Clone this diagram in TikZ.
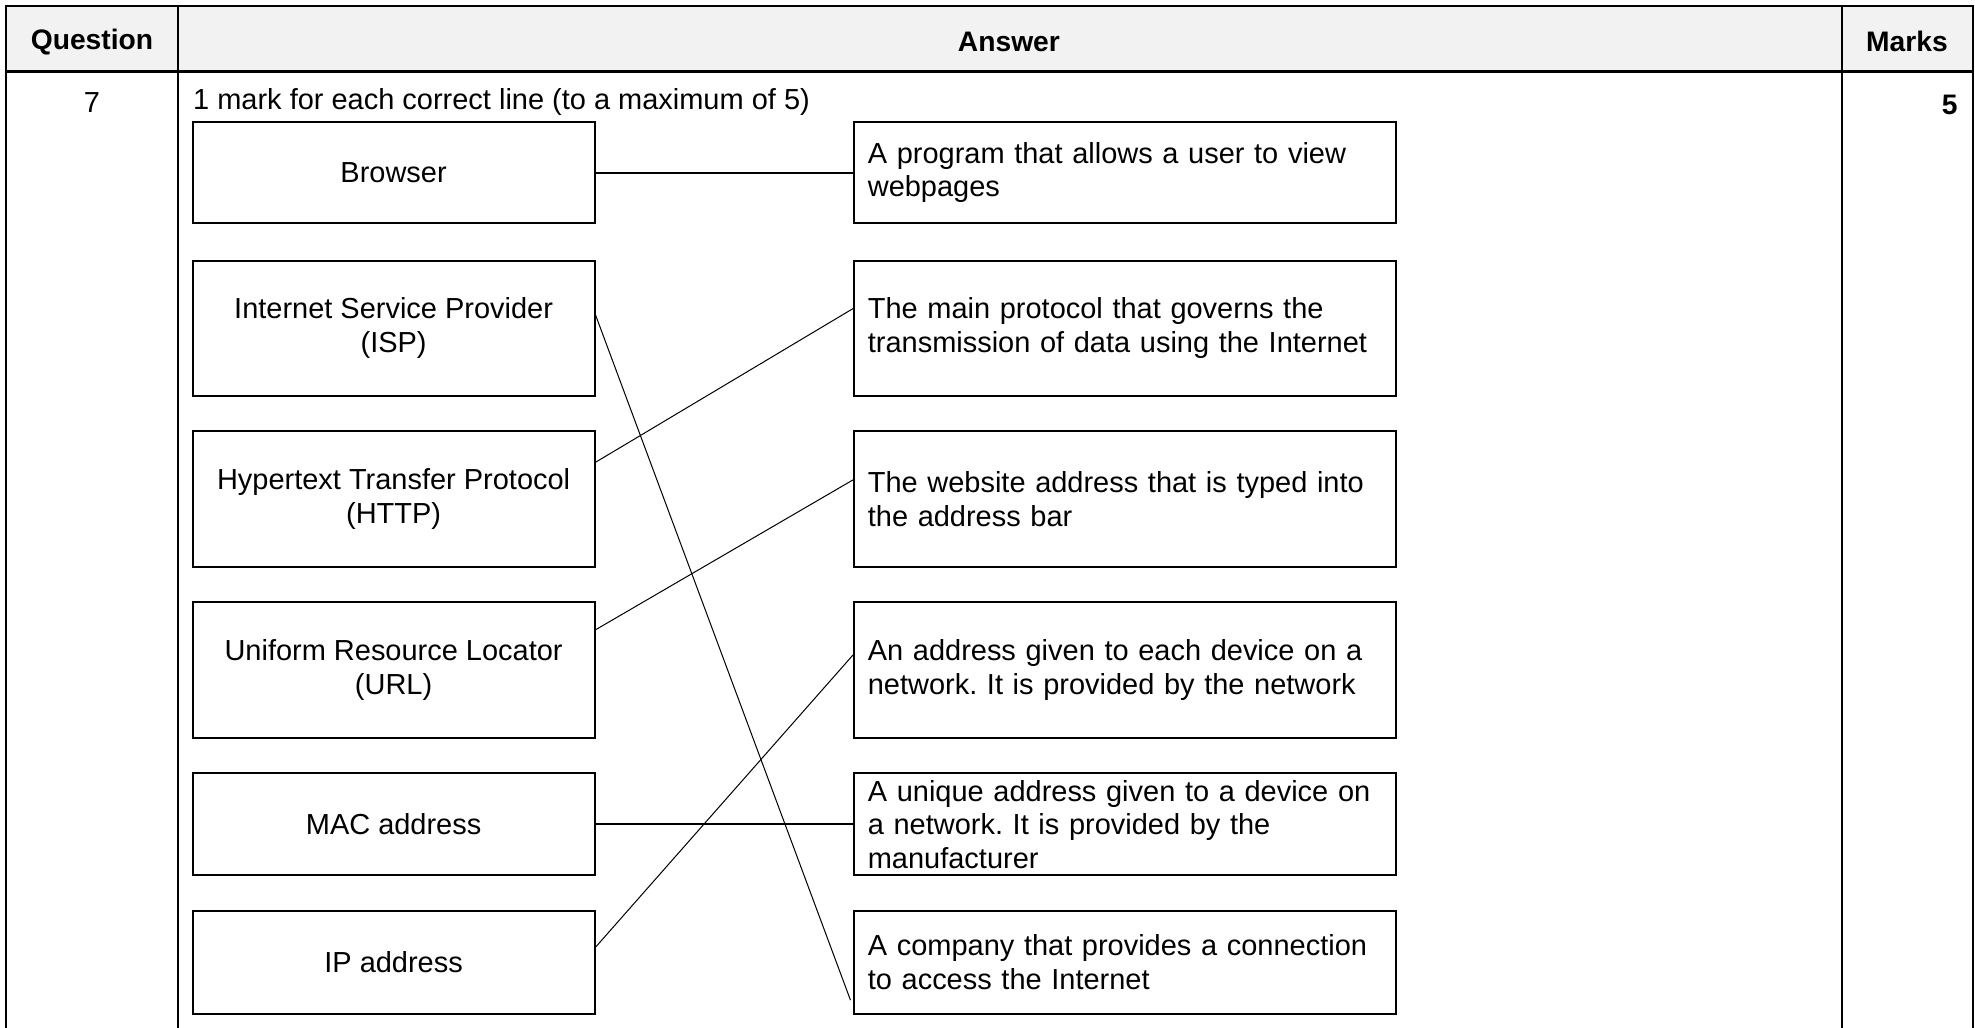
\documentclass[tikz,border=0pt]{standalone}
\usepackage{fontspec}
\setmainfont{Liberation Sans}
\usetikzlibrary{calc}
\newcommand\bodyfs{\fontsize{11.5}{13.4}\selectfont}
\newcommand\hdrfs{\fontsize{11.2}{13.4}\selectfont}
\frenchspacing
\begin{document}
\begin{tikzpicture}[x=0.5pt,y=-0.5pt,
  tline/.style={line width=0.8pt},
  hline/.style={line width=1.2pt},
  lbox/.style={draw,line width=0.8pt,inner sep=0pt,minimum width=159.5pt,align=center,font=\bodyfs},
  rbox/.style={draw,line width=0.8pt,inner xsep=5.5pt,inner ysep=0pt,text width=204pt,align=left,font=\bodyfs},
  hdr/.style={font=\hdrfs\bfseries},
  thin/.style={line width=0.4pt},
  thick/.style={line width=0.8pt}]
\useasboundingbox (0,0) rectangle (1568,816);
% header
\fill[black!5] (5,5) rectangle (1566,57);
\draw[tline] (5,816) -- (5,5) -- (1566,5) -- (1566,816);
\draw[tline] (141.5,5) -- (141.5,816);
\draw[tline] (1462,5) -- (1462,816);
\draw[hline] (5,57) -- (1566,57);
\node[hdr] (hq) at (73,33) {Question};
\node[hdr] (ha) at (801,33) {Answer};
\node[hdr] (hm) at (1514,33) {Marks};
% row
\node[font=\bodyfs] (q7) at (73,81) {7};
\node[font=\bodyfs,anchor=west,inner sep=0pt] (instr) at (153,81) {1 mark for each correct line (to a maximum of 5)};
\node[font=\hdrfs\bfseries,anchor=east,inner sep=0pt] (m5) at (1554.5,83) {5};
% left boxes
\node[lbox,minimum height=40pt] (browser) at (312.5,137) {Browser};
\node[lbox,minimum height=53.5pt] (isp) at (312.5,260.5) {Internet Service Provider\\(ISP)};
\node[lbox,minimum height=54pt] (http) at (312.5,396) {Hypertext Transfer Protocol\\(HTTP)};
\node[lbox,minimum height=54pt] (url) at (312.5,532) {Uniform Resource Locator\\(URL)};
\node[lbox,minimum height=40.5pt] (mac) at (312.5,654.5) {MAC address};
\node[lbox,minimum height=41pt] (ip) at (312.5,764) {IP address};
% right boxes
\node[rbox,minimum height=40pt] (r1) at (893,137) {A program that allows a user to view\\webpages};
\node[rbox,minimum height=53.5pt] (r2) at (893,260.5) {The main protocol that governs the\\transmission of data using the Internet};
\node[rbox,minimum height=54pt] (r3) at (893,396) {The website address that is typed into\\the address bar};
\node[rbox,minimum height=54pt] (r4) at (893,532) {An address given to each device on a\\network. It is provided by the network};
\node[rbox,minimum height=40.5pt] (r5) at (893,654.5) {A unique address given to a device on\\a network. It is provided by the\\manufacturer};
\node[rbox,minimum height=41pt] (r6) at (893,764) {A company that provides a connection\\to access the Internet};
% connectors
\draw[thick] (browser.east) -- (r1.west);
\draw[thick] (mac.east) -- (r5.west);
\draw[thin] ($(isp.east)+(0,-10.5)$) -- ($(r6.west)+(-2,30)$);
\draw[thin] ($(http.east)+(0,-29)$) -- ($(r2.west)+(0,-15.5)$);
\draw[thin] ($(url.east)+(0,-32)$) -- ($(r3.west)+(0,-15)$);
\draw[thin] ($(ip.east)+(0,-12)$) -- ($(r4.west)+(0,-12)$);
\end{tikzpicture}
\end{document}
